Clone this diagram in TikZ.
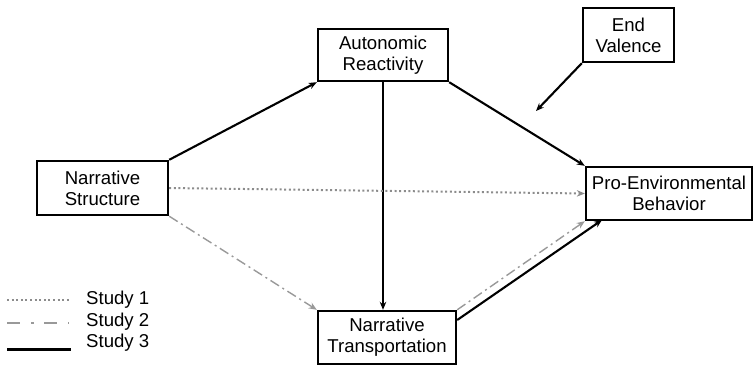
\documentclass[tikz,border=0pt]{standalone}
\usepackage{fontspec}
\setmainfont{Liberation Sans}
\usetikzlibrary{arrows.meta}
\begin{document}
\begin{tikzpicture}[x=1pt,y=-1pt,
  box/.style={draw=black,line width=2.4pt,fill=white,align=center,inner sep=0pt,
    font=\fontsize{18.6}{21}\selectfont},
  solidarr/.style={draw=black,line width=2.1pt,-{Stealth[length=8pt,width=6.5pt]}},
  dotarr/.style={draw=gray!90,line width=2pt,dash pattern=on 2pt off 2.6pt,-{Stealth[length=8pt,width=6.5pt]}},
  dasharr/.style={draw=gray!80,line width=1.4pt,dash pattern=on 10pt off 4pt on 2pt off 4pt,-{Stealth[length=8pt,width=6.5pt]}},
  legtext/.style={anchor=west,inner sep=0pt,font=\fontsize{18.6}{21}\selectfont}]
\useasboundingbox (0,0) rectangle (755,365);
\node[box,minimum width=131pt,minimum height=54pt] (ns) at (102.5,188) {Narrative\\Structure};
\node[box,minimum width=130pt,minimum height=52pt] (ar) at (383,55) {Autonomic\\Reactivity};
\node[box,minimum width=138pt,minimum height=53pt] (nt) at (387,337.5) {Narrative\\Transportation};
\node[box,minimum width=166pt,minimum height=53pt] (peb) at (669,193.5) {Pro-Environmental\\Behavior};
\node[box,minimum width=91pt,minimum height=54pt] (ev) at (628.5,35) {End\\Valence};
\coordinate (evt) at (536,111);
\coordinate (ntr) at (nt.east |- 0,320);
\coordinate (pebb) at (602,220);
\draw[solidarr] (ns.north east) -- (ar.south west);
\draw[solidarr] (ar.south) -- (ar.south |- nt.north);
\draw[solidarr] (ar.south east) -- (peb.north west);
\draw[dotarr] (ns.east) -- (peb.west);
\draw[dasharr] (ns.south east) -- (nt.north west);
\draw[dasharr] (nt.north east) -- (peb.south west);
\draw[solidarr] (ntr) -- (pebb);
\draw[solidarr] (ev.south west) -- (evt);
% legend
\coordinate (l1a) at (7,300); \coordinate (l1b) at (69,300);
\coordinate (l2a) at (7,323); \coordinate (l2b) at (69,323);
\coordinate (l3a) at (7,349); \coordinate (l3b) at (71,349);
\draw[draw=gray!90,line width=2pt,dash pattern=on 2pt off 2.6pt] (l1a) -- (l1b);
\draw[draw=gray!80,line width=2pt,dash pattern=on 13pt off 11pt on 3pt off 10pt] (l2a) -- (l2b);
\draw[draw=black,line width=3pt] (l3a) -- (l3b);
\node[legtext] (s1) at (86,300) {Study 1};
\node[legtext] (s2) at (86,322) {Study 2};
\node[legtext] (s3) at (86,343) {Study 3};
\end{tikzpicture}
\end{document}
